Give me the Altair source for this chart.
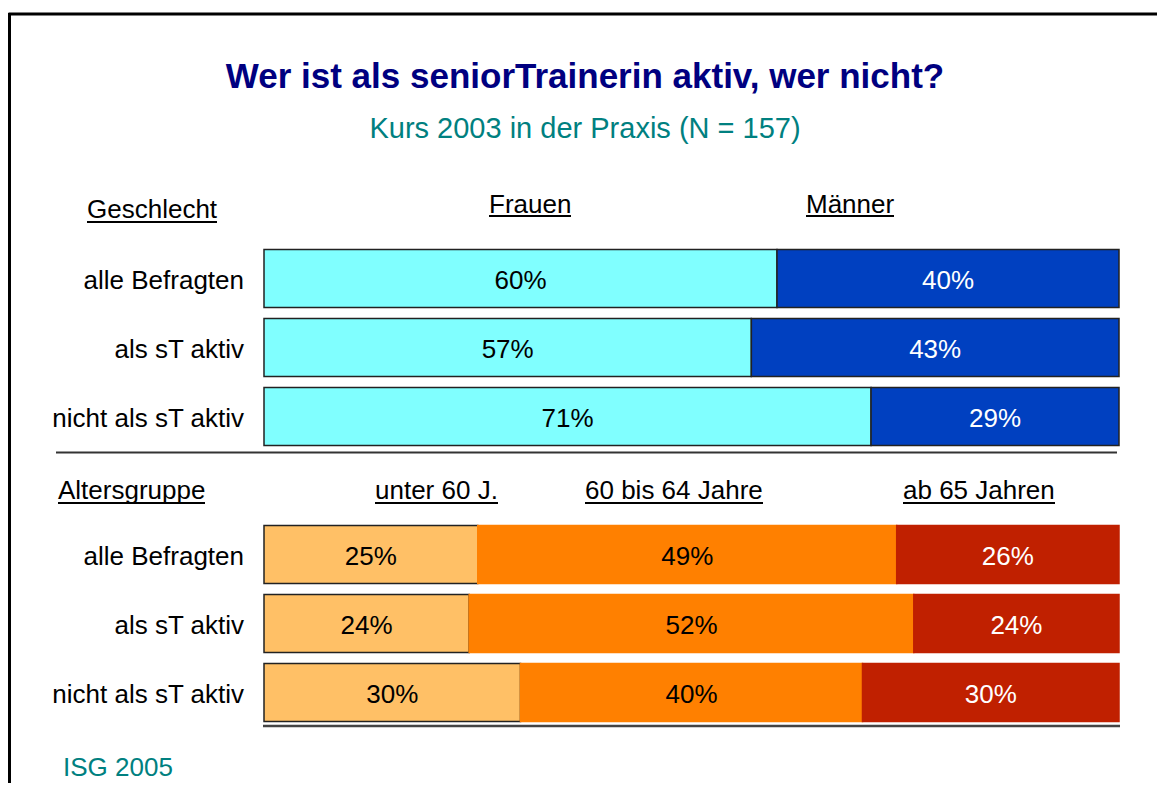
import altair as alt
import pandas as pd

FONT = "Liberation Sans"

row_labels = ["alle Befragten", "als sT aktiv", "nicht als sT aktiv"]

gender_cats = ["Frauen", "Männer"]
gender_vals = [[60, 40], [57, 43], [71, 29]]
gender_colors = ["#80FFFF", "#0040C0"]
gender_text = ["#000000", "#FFFFFF"]

age_cats = ["unter 60 J.", "60 bis 64 Jahre", "ab 65 Jahren"]
age_vals = [[25, 49, 26], [24, 52, 24], [30, 40, 30]]
age_colors = ["#FFC066", "#FF8000", "#C02000"]
age_text = ["#000000", "#000000", "#FFFFFF"]

row_ids = ["g0", "g1", "g2", "spacer", "a0", "a1", "a2"]

records = []
label_rows = []
for prefix, cats, vals, colors, tcols in [
    ("g", gender_cats, gender_vals, gender_colors, gender_text),
    ("a", age_cats, age_vals, age_colors, age_text),
]:
    for i, row in enumerate(vals):
        rid = f"{prefix}{i}"
        label_rows.append({"row": rid, "label": row_labels[i]})
        start = 0
        for j, v in enumerate(row):
            stroke = "#222222" if colors[j] in ("#80FFFF", "#0040C0", "#FFC066") else colors[j]
            records.append({
                "row": rid, "cat": cats[j], "value": v,
                "start": start, "end": start + v, "mid": start + v / 2,
                "txt": f"{v}%", "tc": tcols[j], "sc": stroke,
            })
            start += v

df = pd.DataFrame(records)
labels_df = pd.DataFrame(label_rows)

xscale = alt.Scale(domain=[0, 100], range=[256, 1111])
yscale = alt.Scale(domain=row_ids, range=[236, 719], paddingInner=0.16, paddingOuter=0.08)

bars = alt.Chart(df).mark_bar(strokeWidth=1.5).encode(
    x=alt.X("start:Q", scale=xscale, axis=None),
    x2="end:Q",
    y=alt.Y("row:N", scale=yscale, axis=None),
    color=alt.Color("cat:N", scale=alt.Scale(domain=gender_cats + age_cats,
                                             range=gender_colors + age_colors), legend=None),
    stroke=alt.Stroke("sc:N", scale=None),
)

vals_text = alt.Chart(df).mark_text(fontSize=26, font=FONT, baseline="middle", dy=2).encode(
    x=alt.X("mid:Q", scale=xscale, axis=None),
    y=alt.Y("row:N", scale=yscale, axis=None),
    text="txt:N",
    color=alt.Color("tc:N", scale=None),
)

row_text = alt.Chart(labels_df).mark_text(fontSize=26, font=FONT, align="right",
                                          baseline="middle", dy=2, color="black").encode(
    x=alt.value(236),
    y=alt.Y("row:N", scale=yscale, axis=None),
    text="label:N",
)


def label(text, x, y, size=26, color="black", bold=False, align="left"):
    return alt.Chart(pd.DataFrame({"t": [text]})).mark_text(
        align=align, baseline="alphabetic", fontSize=size, font=FONT,
        fontWeight="bold" if bold else "normal", color=color,
    ).encode(x=alt.value(x), y=alt.value(y), text="t:N")


def hline(x1, x2, y, color="black", width=2):
    return alt.Chart(pd.DataFrame({"a": [0]})).mark_rule(color=color, strokeWidth=width).encode(
        x=alt.value(x1), x2=alt.value(x2), y=alt.value(y))


def vline(x, y1, y2, color="black", width=3):
    return alt.Chart(pd.DataFrame({"a": [0]})).mark_rule(color=color, strokeWidth=width).encode(
        x=alt.value(x), y=alt.value(y1), y2=alt.value(y2))


layers = [
    hline(0.5, 1149, 6, "black", 3),
    vline(1.5, 5, 775, "black", 3),
    label("Wer ist als seniorTrainerin aktiv, wer nicht?", 577, 80, 35, "#000080", True, "center"),
    label("Kurs 2003 in der Praxis (N = 157)", 577, 130, 29, "#008080", False, "center"),
    label("Geschlecht", 79, 210),
    hline(79, 209, 214, "black", 2),
    label("Frauen", 481, 205),
    hline(481, 563, 208, "black", 2),
    label("Männer", 798, 205),
    hline(798, 886, 208, "black", 2),
    hline(48, 1109, 444.5, "#333333", 2),
    label("Altersgruppe", 50, 491),
    hline(50, 197, 495, "black", 2),
    label("unter 60 J.", 367, 491),
    hline(367, 490, 495, "black", 2),
    label("60 bis 64 Jahre", 577, 491),
    hline(577, 755, 495, "black", 2),
    label("ab 65 Jahren", 895, 491),
    hline(895, 1047, 495, "black", 2),
    bars,
    vals_text,
    row_text,
    hline(255, 1112, 718, "#444444", 2.5),
    label("ISG 2005", 55, 768, 26, "#008080"),
]

chart = alt.layer(*layers).properties(
    width=1149, height=775,
    autosize=alt.AutoSizeParams(type="none"),
    padding=0,
).configure_view(stroke=None)

chart.save("out.html", embed_options={"renderer": "svg", "actions": False})
